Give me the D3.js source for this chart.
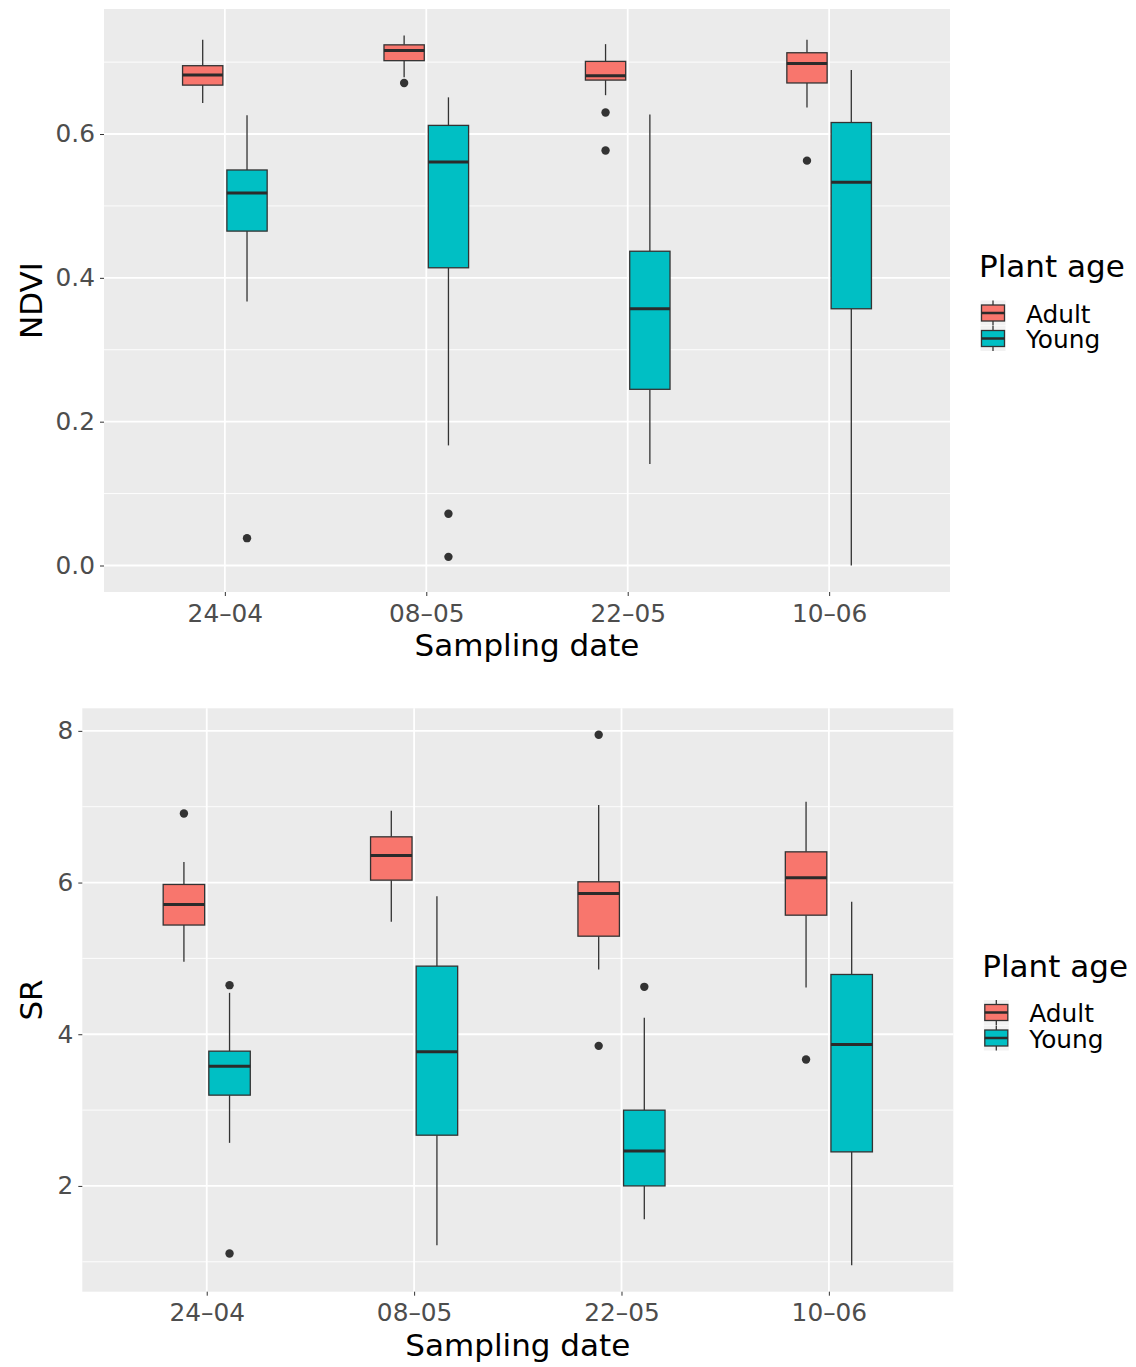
<!DOCTYPE html>
<html>
<head>
<meta charset="utf-8">
<script src="https://cdn.jsdelivr.net/npm/d3@7"></script>
<style>
    body { margin: 0; background: #fff; }
    svg { font-family: "DejaVu Sans", sans-serif; }
    .tick text { fill: #4d4d4d; font-size: 24.8px; }
    .tick line { stroke: #333; }
    .domain { display: none; }
</style>
</head>
<body>
<script>
// ------------------------------------------------------------
// NDVI and SR by sampling date and plant age (ggplot-style boxplots)
// ------------------------------------------------------------

var dates = ["24–04", "08–05", "22–05", "10–06"];
var ages = ["Adult", "Young"];
var ageColors = ["#F8766D", "#00BFC4"];

// five-number summaries: [lower whisker, Q1, median, Q3, upper whisker]
var ndviAdult = [[0.643, 0.668, 0.682, 0.695, 0.731], [0.679, 0.702, 0.716, 0.724, 0.737],
                 [0.654, 0.675, 0.681, 0.701, 0.725], [0.637, 0.671, 0.698, 0.713, 0.731]];
var ndviYoung = [[0.367, 0.465, 0.518, 0.550, 0.626], [0.167, 0.414, 0.561, 0.612, 0.651],
                 [0.141, 0.245, 0.357, 0.437, 0.627], [0.000, 0.357, 0.533, 0.616, 0.689]];
var ndviAdultOut = [[], [0.671], [0.630, 0.577], [0.563]];
var ndviYoungOut = [[0.038], [0.072, 0.012], [], []];
var ndviTicks = [0, 0.2, 0.4, 0.6];

var srAdult = [[4.955, 5.44, 5.71, 5.975, 6.27], [5.482, 6.032, 6.357, 6.603, 6.946],
               [4.854, 5.293, 5.857, 6.01, 7.021], [4.617, 5.57, 6.062, 6.405, 7.065]];
var srYoung = [[2.568, 3.197, 3.579, 3.777, 4.546], [1.218, 2.669, 3.768, 4.898, 5.821],
               [1.561, 2.0, 2.462, 2.999, 4.216], [0.955, 2.449, 3.865, 4.788, 5.746]];
var srAdultOut = [[6.91], [], [7.948, 3.847], [3.667]];
var srYoungOut = [[4.647, 1.109], [], [4.625], []];
var srTicks = [2, 4, 6, 8];

var w = 1136, h = 1367;

var svg = d3.select("body").append("svg")
    .attr("width", w)
    .attr("height", h);

function drawPanel(opt) {
    var g = svg.append("g");
    var stats = [opt.adult, opt.young];
    var outs = [opt.adultOut, opt.youngOut];

    // y domain: data range with 5% expansion, like ggplot
    var all = [];
    stats.forEach(function(s) { s.forEach(function(d) { all = all.concat(d); }); });
    outs.forEach(function(s) { s.forEach(function(d) { all = all.concat(d); }); });
    var ext = d3.extent(all);
    var pad = (ext[1] - ext[0]) * 0.05;

    var y = d3.scaleLinear()
        .domain([ext[0] - pad, ext[1] + pad])
        .range([opt.bottom, opt.top]);

    var x = d3.scalePoint()
        .domain(dates)
        .range([opt.left, opt.right])
        .padding(0.6);
    var step = x.step();
    var boxw = step * 0.2;
    var dodge = step * 0.11;

    // panel background
    g.append("rect")
        .attr("x", opt.left)
        .attr("y", opt.top)
        .attr("width", opt.right - opt.left)
        .attr("height", opt.bottom - opt.top)
        .attr("fill", "#ebebeb");

    // minor grid (midpoints between ticks)
    var tstep = opt.ticks[1] - opt.ticks[0];
    var minor = [opt.ticks[0] - tstep / 2].concat(opt.ticks.map(function(t) { return t + tstep / 2; }))
        .filter(function(v) { var dm = y.domain(); return v > dm[0] && v < dm[1]; });
    g.selectAll(".minor").data(minor).enter().append("line")
        .attr("x1", opt.left).attr("x2", opt.right)
        .attr("y1", function(d) { return y(d); })
        .attr("y2", function(d) { return y(d); })
        .attr("stroke", "#fff").attr("stroke-width", 0.9);

    // major grid
    g.selectAll(".majory").data(opt.ticks).enter().append("line")
        .attr("x1", opt.left).attr("x2", opt.right)
        .attr("y1", function(d) { return y(d); })
        .attr("y2", function(d) { return y(d); })
        .attr("stroke", "#fff").attr("stroke-width", 1.8);
    g.selectAll(".majorx").data(dates).enter().append("line")
        .attr("y1", opt.top).attr("y2", opt.bottom)
        .attr("x1", function(d) { return x(d); })
        .attr("x2", function(d) { return x(d); })
        .attr("stroke", "#fff").attr("stroke-width", 1.8);

    // boxes
    for (var a = 0; a < ages.length; a++) {
        var off = a === 0 ? -dodge : dodge;
        for (var i = 0; i < dates.length; i++) {
            var s = stats[a][i];
            var cx = x(dates[i]) + off;

            g.append("line")
                .attr("x1", cx).attr("x2", cx)
                .attr("y1", y(s[0])).attr("y2", y(s[1]))
                .attr("stroke", "#333").attr("stroke-width", 1.3);
            g.append("line")
                .attr("x1", cx).attr("x2", cx)
                .attr("y1", y(s[3])).attr("y2", y(s[4]))
                .attr("stroke", "#333").attr("stroke-width", 1.3);

            g.append("rect")
                .attr("x", cx - boxw / 2)
                .attr("y", y(s[3]))
                .attr("width", boxw)
                .attr("height", y(s[1]) - y(s[3]))
                .attr("fill", ageColors[a])
                .attr("stroke", "#333")
                .attr("stroke-width", 1.3);

            g.append("line")
                .attr("x1", cx - boxw / 2).attr("x2", cx + boxw / 2)
                .attr("y1", y(s[2])).attr("y2", y(s[2]))
                .attr("stroke", "#2b2b2b").attr("stroke-width", 3);

            g.selectAll(null).data(outs[a][i]).enter().append("circle")
                .attr("cx", cx)
                .attr("cy", function(d) { return y(d); })
                .attr("r", 4.2)
                .attr("fill", "#333");
        }
    }

    // axes
    var yAxis = g.append("g")
        .attr("transform", "translate(" + opt.left + ",0)")
        .call(d3.axisLeft(y).tickValues(opt.ticks).tickSize(4).tickPadding(5)
            .tickFormat(opt.fmt));
    var xAxis = g.append("g")
        .attr("transform", "translate(0," + opt.bottom + ")")
        .call(d3.axisBottom(x).tickSize(4).tickPadding(8));
    [yAxis, xAxis].forEach(function(ax) {
        ax.attr("font-family", null).attr("font-size", null);
    });

    // axis titles
    g.append("text")
        .attr("x", (opt.left + opt.right) / 2)
        .attr("y", opt.bottom + 64)
        .attr("text-anchor", "middle")
        .attr("font-size", 31)
        .text("Sampling date");

    var cy = (opt.top + opt.bottom) / 2;
    g.append("text")
        .attr("transform", "translate(42," + cy + ") rotate(-90)")
        .attr("text-anchor", "middle")
        .attr("font-size", 31)
        .text(opt.ylab);

    // legend
    var lx = opt.right + 29;
    g.append("text")
        .attr("x", lx)
        .attr("y", cy - 23.5)
        .attr("font-size", 31)
        .text("Plant age");

    ages.forEach(function(age, k) {
        var ky = cy + 12.5 + k * 25.5;
        var kx = lx + 14;
        g.append("rect")
            .attr("x", kx - 12.5).attr("y", ky - 12.5)
            .attr("width", 25).attr("height", 25)
            .attr("fill", "#f2f2f2");
        g.append("line")
            .attr("x1", kx).attr("x2", kx)
            .attr("y1", ky - 12.5).attr("y2", ky + 12.5)
            .attr("stroke", "#333").attr("stroke-width", 1.3);
        g.append("rect")
            .attr("x", kx - 11.5).attr("y", ky - 8)
            .attr("width", 23).attr("height", 16)
            .attr("fill", ageColors[k])
            .attr("stroke", "#333").attr("stroke-width", 1.3);
        g.append("line")
            .attr("x1", kx - 11.5).attr("x2", kx + 11.5)
            .attr("y1", ky).attr("y2", ky)
            .attr("stroke", "#2b2b2b").attr("stroke-width", 2.5);
        g.append("text")
            .attr("x", lx + 47)
            .attr("y", ky + 9.5)
            .attr("font-size", 24.8)
            .text(age);
    });
}

drawPanel({
    adult: ndviAdult, young: ndviYoung,
    adultOut: ndviAdultOut, youngOut: ndviYoungOut,
    ticks: ndviTicks, fmt: d3.format(".1f"), ylab: "NDVI",
    left: 104, right: 950, top: 9, bottom: 592
});

drawPanel({
    adult: srAdult, young: srYoung,
    adultOut: srAdultOut, youngOut: srYoungOut,
    ticks: srTicks, fmt: d3.format("d"), ylab: "SR",
    left: 82.3, right: 953.3, top: 708.3, bottom: 1291.7
});
</script>
</body>
</html>
